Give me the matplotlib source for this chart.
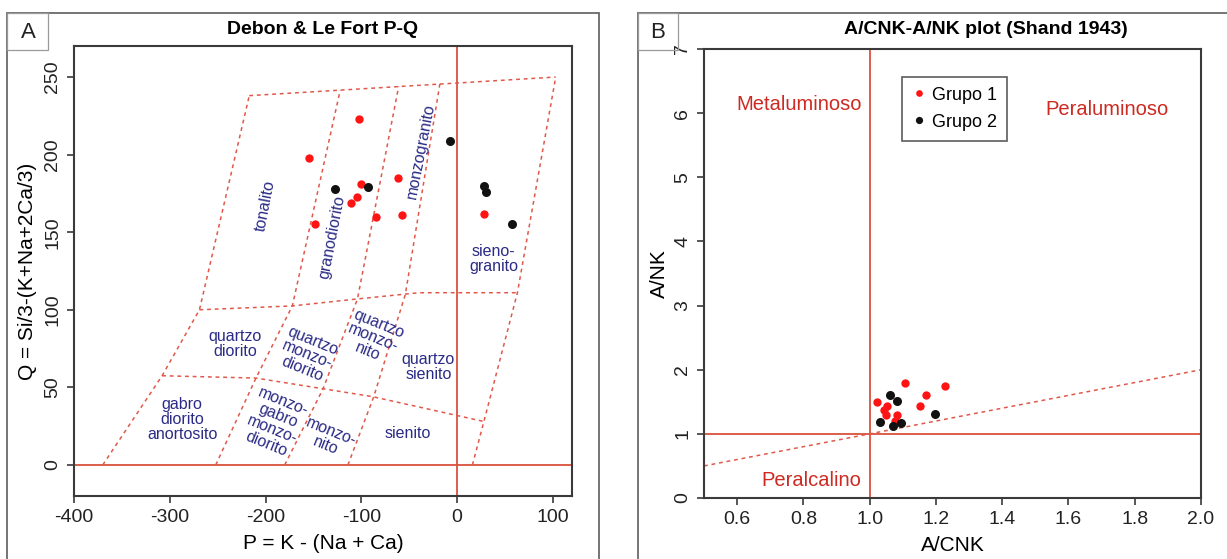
import matplotlib

matplotlib.use("Agg")
import matplotlib.pyplot as plt
from matplotlib.patches import Rectangle

plt.rcParams["font.family"] = ["Liberation Sans", "DejaVu Sans"]
plt.rcParams["axes.unicode_minus"] = False

# --- samples, Debon & Le Fort P-Q ---
g1_P = [-102, -155, -62, -100, -104, -111, -85, -57, -148, 28]
g1_Q = [223, 198, 185, 181, 173, 169, 160, 161, 155, 162]
g2_P = [-7, -127, -93, 28, 30, 57]
g2_Q = [209, 178, 179, 180, 176, 155]

# --- samples, Shand A/CNK-A/NK ---
g1_acnk = [1.106, 1.227, 1.169, 1.021, 1.152, 1.053, 1.042, 1.048, 1.083, 1.075]
g1_ank = [1.80, 1.74, 1.60, 1.50, 1.44, 1.44, 1.37, 1.30, 1.30, 1.20]
g2_acnk = [1.060, 1.083, 1.196, 1.031, 1.070, 1.095]
g2_ank = [1.61, 1.51, 1.31, 1.19, 1.13, 1.17]

# P-Q field boundaries (template)
pq_bounds = [
    ([-370, -308, -269, -217], [0, 57.5, 100, 238]),
    ([-252, -210, -172, -122], [0, 56, 102.5, 241.6]),
    ([-180, -140, -104, -61], [0, 49, 107, 243.9]),
    ([-114, -87, -54, -18], [0, 44, 110, 245.5]),
    ([16, 28, 63, 103], [0, 28, 111, 250]),
    ([-217, 103], [238, 250]),
    ([-269, -172, -104, -40, 63], [100, 102.5, 107, 111, 111]),
    ([-308, -210, -88, 28], [57.5, 56, 44, 28]),
]

# field names: (text, P, Q, rotation)
pq_fields = [
    ("tonalito", -200, 167, 79),
    ("granodiorito", -131, 147, 79),
    ("monzogranito", -38, 202, 79),
    ("sieno-\ngranito", 38, 133, 0),
    ("quartzo\ndiorito", -232, 78, 0),
    ("quartzo\nmonzo-\ndiorito", -156, 71, -22),
    ("quartzo\nmonzo-\nnito", -88, 82, -22),
    ("quartzo\nsienito", -30, 63, 0),
    ("gabro\ndiorito\nanortosito", -287, 29, 0),
    ("monzo-\ngabro\nmonzo-\ndiorito", -190, 27, -22),
    ("monzo-\nnito", -134, 17, -22),
    ("sienito", -52, 20, 0),
]

shand_fields = [
    ("Metaluminoso", 0.787, 6.13),
    ("Peraluminoso", 1.716, 6.05),
    ("Peralcalino", 0.824, 0.28),
]

W, H = 1227, 559
fig = plt.figure(figsize=(W / 100, H / 100), dpi=100)

line_red = "#d9503c"
dash_red = "#e0584a"
field_blue = "#2b2b86"
text_red = "#cc2a22"
spine_col = "#3a3a3a"


def px_axes(l, t, r, b):
    return fig.add_axes([l / W, 1 - b / H, (r - l) / W, (b - t) / H])


def style(ax):
    for s in ax.spines.values():
        s.set_color(spine_col)
        s.set_linewidth(1.5)
    ax.tick_params(direction="out", length=5, width=1.2, color=spine_col,
                   labelsize=14, labelcolor="#222222", pad=4)
    for lab in ax.get_yticklabels():
        lab.set_rotation(90)
        lab.set_va("center")


# ---------------- panel A ----------------
axA = px_axes(74, 46, 572, 496)
axA.set_xlim(-400, 120)
axA.set_ylim(-20, 270)
axA.set_xticks([-400, -300, -200, -100, 0, 100])
axA.set_yticks([0, 50, 100, 150, 200, 250])
axA.axhline(0, color=line_red, lw=1.3, zorder=1)
axA.axvline(0, color=line_red, lw=1.3, zorder=1)
for xs, ys in pq_bounds:
    axA.plot(xs, ys, color=dash_red, lw=1.1, dashes=(2.5, 2.5), zorder=1)
for txt, px, qy, rot in pq_fields:
    axA.text(px, qy, txt, color=field_blue, fontsize=11.5, ha="center", va="center",
             rotation=rot, rotation_mode="anchor", linespacing=1.0)
axA.plot(g1_P, g1_Q, "o", color="#ff1414", ms=6, mec="none", zorder=3)
axA.plot(g2_P, g2_Q, "o", color="#111111", ms=6.5, mec="none", zorder=3)
style(axA)
axA.set_xlabel("P = K - (Na + Ca)", fontsize=15)
axA.set_ylabel("Q = Si/3-(K+Na+2Ca/3)", fontsize=15)
axA.xaxis.set_label_coords(0.5, -0.085)
axA.yaxis.set_label_coords(-0.075, 0.5)

# ---------------- panel B ----------------
axB = px_axes(704, 49, 1201, 498)
axB.set_xlim(0.5, 2.0)
axB.set_ylim(0, 7)
axB.set_xticks([0.6, 0.8, 1.0, 1.2, 1.4, 1.6, 1.8, 2.0])
axB.set_xticklabels(["0.6", "0.8", "1.0", "1.2", "1.4", "1.6", "1.8", "2.0"])
axB.set_yticks(range(0, 8))
axB.axvline(1, color=line_red, lw=1.3, zorder=1)
axB.axhline(1, color=line_red, lw=1.3, zorder=1)
axB.plot([0.5, 2.0], [0.5, 2.0], color=dash_red, lw=1.1, dashes=(2.5, 2.5), zorder=1)
for txt, xx, yy in shand_fields:
    axB.text(xx, yy, txt, color=text_red, fontsize=14.5, ha="center", va="center")
axB.plot(g1_acnk, g1_ank, "o", color="#ff1414", ms=6, mec="none", zorder=3, label="Grupo 1")
axB.plot(g2_acnk, g2_ank, "o", color="#111111", ms=6.5, mec="none", zorder=3, label="Grupo 2")
style(axB)
axB.set_xlabel("A/CNK", fontsize=15)
axB.set_ylabel("A/NK", fontsize=15)
axB.xaxis.set_label_coords(0.5, -0.085)
axB.yaxis.set_label_coords(-0.07, 0.5)
leg = axB.legend(loc="upper left", bbox_to_anchor=(0.38, 0.958), fontsize=13,
                 frameon=True, fancybox=False, edgecolor="#333333", handletextpad=0.3,
                 handlelength=0.8, borderpad=0.55, labelspacing=0.55, markerscale=0.8)
leg.get_frame().set_linewidth(1.2)

# ---------------- titles, frames, tags ----------------
fig.text(323 / W, 1 - 30 / H, "Debon & Le Fort P-Q", ha="center", va="center",
         fontsize=14, fontweight="bold")
fig.text(986 / W, 1 - 30 / H, "A/CNK-A/NK plot (Shand 1943)", ha="center", va="center",
         fontsize=14, fontweight="bold")


def fig_rect(l, t, r, b, **kw):
    fig.add_artist(Rectangle((l / W, 1 - b / H), (r - l) / W, (b - t) / H,
                             transform=fig.transFigure, fill=False, **kw))


fig_rect(7, 13, 599, 575, edgecolor="#6a6a6a", lw=1.3)
fig_rect(638, 13, 1240, 575, edgecolor="#6a6a6a", lw=1.3)
fig_rect(7, 13, 48, 50, edgecolor="#9a9a9a", lw=0.9)
fig_rect(638, 13, 678, 50, edgecolor="#9a9a9a", lw=0.9)
fig.text(28 / W, 1 - 32 / H, "A", ha="center", va="center", fontsize=16, color="#222222")
fig.text(658 / W, 1 - 32 / H, "B", ha="center", va="center", fontsize=16, color="#222222")

fig.savefig("out.png", dpi=100)
